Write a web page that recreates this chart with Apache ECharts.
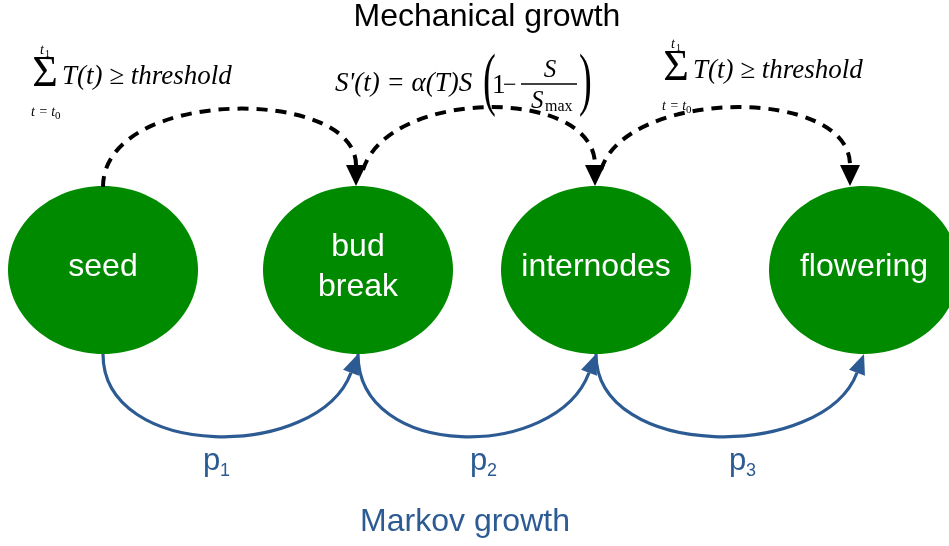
<!DOCTYPE html>
<html>
<head>
<meta charset="utf-8">
<title>Mechanical and Markov growth</title>
<script src="https://cdn.jsdelivr.net/npm/echarts@6/dist/echarts.min.js"></script>
<style>
  html, body { margin: 0; padding: 0; background: #fff; }
  #main { width: 949px; height: 546px; }
</style>
</head>
<body>
<div id="main"></div>
<script>
// stages of the plant growth model (centre of each state, in page units)
const stageNames = ['seed', 'bud\nbreak', 'internodes', 'flowering'];
const stageX = [103, 358, 596, 864];
const stageY = [270, 270, 270, 270];

// transitions between stages: [from, to]
const mechanicalLinks = [[0, 1], [1, 2], [2, 3]];
const markovLinks = [[0, 1], [1, 2], [2, 3]];
const markovProbs = ['1', '2', '3'];

const GREEN = '#008a00';
const BLUE = '#2c5b93';
const SANS = '"Liberation Sans", Arial, sans-serif';
const SERIF = '"Liberation Serif", "Times New Roman", serif';
const RX = 95, RY = 84;

const myChart = echarts.init(document.getElementById('main'));

// cubic curve ending in a filled arrow head
function curveWithHead(p0, p1, c2, tip, st) {
  const dx = tip[0] - c2[0], dy = tip[1] - c2[1];
  const len = Math.hypot(dx, dy);
  const ux = dx / len, uy = dy / len;
  const base = [tip[0] - ux * st.head, tip[1] - uy * st.head];
  const nx = -uy * st.headW / 2, ny = ux * st.headW / 2;
  return [
    {
      type: 'bezierCurve',
      shape: { x1: p0[0], y1: p0[1], cpx1: p1[0], cpy1: p1[1], cpx2: c2[0], cpy2: c2[1], x2: base[0], y2: base[1] },
      style: { stroke: st.color, lineWidth: st.width, lineDash: st.dash || null, fill: 'none' }
    },
    {
      type: 'polygon',
      shape: { points: [tip, [base[0] + nx, base[1] + ny], [base[0] - nx, base[1] - ny]] },
      style: { fill: st.color }
    }
  ];
}

function renderStage(params, api) {
  const i = params.dataIndex;
  const c = api.coord([stageX[i], stageY[i]]);
  const s = api.size([RX * 2, RY * 2], [stageX[i], stageY[i]]);
  return {
    type: 'group',
    children: [
      { type: 'ellipse', shape: { cx: c[0], cy: c[1], rx: s[0] / 2, ry: s[1] / 2 }, style: { fill: GREEN } },
      {
        type: 'text', x: c[0], y: c[1] - 3,
        style: { text: stageNames[i], fill: '#fff', fontSize: 32, fontFamily: SANS, align: 'center', verticalAlign: 'middle', lineHeight: 40 }
      }
    ]
  };
}

const mechTipShift = [-2, -1, -14];
function renderMechanical(params, api) {
  const [from, to] = mechanicalLinks[params.dataIndex];
  const a = api.coord([stageX[from], stageY[from] - RY]);
  const tip = api.coord([stageX[to] + mechTipShift[params.dataIndex], stageY[to] - RY]);
  const lift = 100;
  const first = params.dataIndex === 0;
  const p0 = first ? [a[0], a[1] + 1] : [a[0] + 5, a[1] - 16];
  const p1 = first ? [p0[0], p0[1] - lift] : [p0[0] + 25, p0[1] - lift + 18];
  const c2 = [tip[0], tip[1] - lift];
  return {
    type: 'group',
    children: curveWithHead(p0, p1, c2, tip, { color: '#000', width: 4, dash: [11, 8], head: 21, headW: 20 })
  };
}

function renderMarkov(params, api) {
  const [from, to] = markovLinks[params.dataIndex];
  const a = api.coord([stageX[from], stageY[from] + RY]);
  const tip = api.coord([stageX[to], stageY[to] + RY]);
  const drop = 107;
  const p1 = [a[0], a[1] + drop];
  const c2 = [tip[0] - 40, tip[1] + drop];
  return {
    type: 'group',
    children: curveWithHead(a, p1, c2, tip, { color: BLUE, width: 3.2, head: 20, headW: 17 })
  };
}

function txt(x, y, text, size, o) {
  o = o || {};
  return {
    type: 'text', x: x, y: y, scaleX: o.sx || 1,
    style: {
      text: text, fill: o.color || '#000', fontSize: size,
      fontFamily: o.font || SERIF, fontStyle: o.italic ? 'italic' : 'normal',
      align: o.align || 'left', verticalAlign: 'middle'
    }
  };
}

function sumFormula(ox, oy) {
  return [
    txt(ox + 45, oy + 74, 'Σ', 44, { align: 'center' }),
    txt(ox + 40, oy + 50, 't', 14, { italic: true }),
    txt(ox + 45, oy + 54, '1', 10),
    txt(ox + 31, oy + 112, 't = t', 14, { italic: true }),
    txt(ox + 55, oy + 116, '0', 11),
    txt(ox + 62, oy + 77, 'T(t) ≥ threshold', 27, { italic: true })
  ];
}

const probLabelX = [203, 470, 729];
const graphics = []
  .concat(sumFormula(0, 0))
  .concat(sumFormula(631, -6))
  .concat([
    txt(335, 84, "S'(t) = α(T)S", 27, { italic: true }),
    txt(483, 84, '(', 70, { sx: 0.55 }),
    txt(492, 86, '1', 27),
    txt(503, 86, '−', 24),
    txt(550, 70, 'S', 25, { italic: true, align: 'center' }),
    { type: 'line', shape: { x1: 521, y1: 84, x2: 577, y2: 84 }, style: { stroke: '#000', lineWidth: 1.3 } },
    txt(531, 101, 'S', 25, { italic: true }),
    txt(545, 107, 'max', 16),
    txt(579, 84, ')', 70, { sx: 0.55 }),
    txt(487, 17, 'Mechanical growth', 32, { font: SANS, align: 'center' }),
    txt(465, 522, 'Markov growth', 32, { font: SANS, align: 'center', color: BLUE })
  ]);
markovProbs.forEach((n, i) => {
  graphics.push(txt(probLabelX[i], 461, 'p', 31, { font: SANS, color: BLUE }));
  graphics.push(txt(probLabelX[i] + 17, 471, n, 18, { font: SANS, color: BLUE }));
});

const option = {
  animation: false,
  grid: { left: 0, right: 0, top: 0, bottom: 0 },
  xAxis: { type: 'value', min: 0, max: 949, show: false },
  yAxis: { type: 'value', min: 0, max: 546, inverse: true, show: false },
  graphic: graphics,
  series: [
    { type: 'custom', clip: false, renderItem: renderMechanical, data: mechanicalLinks, z: 3 },
    { type: 'custom', clip: false, renderItem: renderMarkov, data: markovLinks, z: 3 },
    { type: 'custom', clip: false, renderItem: renderStage, data: stageX.map((x, i) => [x, stageY[i]]), z: 2 }
  ]
};

myChart.setOption(option);
</script>
</body>
</html>
